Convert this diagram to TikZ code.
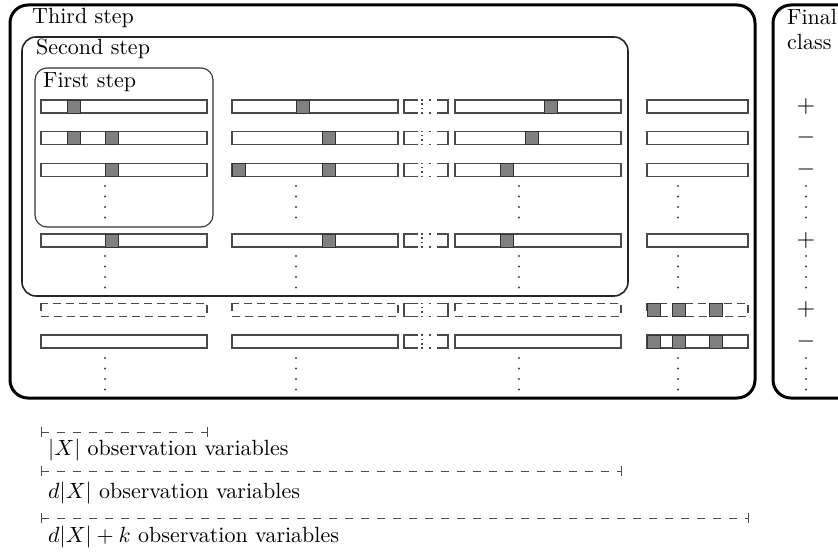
\documentclass[tikz,border=0pt]{standalone}
\usepackage{amsmath}
\definecolor{barc}{HTML}{4A4A4A}
\definecolor{cellb}{HTML}{333333}
\definecolor{cellg}{HTML}{808080}
\newcommand{\obsbar}[3]{\draw[bar] ({#1},{#3-6.5}) rectangle ({#2},{#3+6.5});}
\newcommand{\obsdbar}[3]{\draw[dbar] ({#1},{#3-6.5}) rectangle ({#2},{#3+6.5});}
\newcommand{\obscell}[2]{\draw[cellbox] ({#1},{#2-6.5}) rectangle ({#1+13},{#2+6.5});}
\newcommand{\obsgap}[1]{%
  \draw[gapline] (418,{#1-6.5}) -- (404,{#1-6.5}) -- (404,{#1+6.5}) -- (418,{#1+6.5});
  \draw[gapline] (437,{#1-6.5}) -- (448,{#1-6.5}) -- (448,{#1+6.5}) -- (437,{#1+6.5});
  \draw[gapline] (421,{#1-6.5}) -- (423,{#1-6.5}) (429,{#1-6.5}) -- (431,{#1-6.5})
                 (421,{#1+6.5}) -- (423,{#1+6.5}) (429,{#1+6.5}) -- (431,{#1+6.5})
                 (422,{#1-3}) -- (422,{#1-1.5}) (422,{#1+1.5}) -- (422,{#1+3});}
\newcommand{\obsdots}[2]{\foreach \ii in {0,...,3} {\fill[vdot] ({#1},{#2+10.5*\ii}) circle (1.2pt);}}
\newcommand{\bigtxt}[1]{\scalebox{2.2}{\fontsize{10}{12}\selectfont #1}}
\newcommand{\signtxt}[1]{\scalebox{2.4}{\fontsize{10}{12}\selectfont #1}}
\begin{document}
\begin{tikzpicture}[x=1pt,y=-1pt,
  lbl/.style={inner sep=0pt, anchor=base west},
  bar/.style={draw=barc, line width=1.1pt, fill=white},
  dbar/.style={draw=barc, line width=1.1pt, dash pattern=on 8pt off 5pt},
  cellbox/.style={draw=cellb, line width=0.9pt, fill=cellg},
  gapline/.style={draw=barc, line width=1.1pt},
  stepthree/.style={draw=black, line width=3pt, rounded corners=18pt},
  steptwo/.style={draw=black!85, line width=1.6pt, rounded corners=14pt},
  stepone/.style={draw=black!80, line width=1.1pt, rounded corners=12pt},
  measure/.style={draw=black!70, line width=0.9pt, dash pattern=on 8pt off 8pt},
  tickline/.style={draw=black!70, line width=0.9pt},
  vdot/.style={fill=black!75, draw=none},
  sign/.style={inner sep=0pt}
]
\useasboundingbox (0,0) rectangle (838,553);
\begin{scope}
  \clip (0,0) rectangle (838,553);
  \draw[stepthree] (10,5) rectangle (755,398);
  \draw[stepthree] (773,5) rectangle (880,398);
\end{scope}
\draw[steptwo] (22,37) rectangle (628,296);
\draw[stepone] (35,68) rectangle (213,227);

\node[lbl] (third) at (32,24) {\bigtxt{Third step}};
\node[lbl] (second) at (36,55) {\bigtxt{Second step}};
\node[lbl] (first) at (43,88) {\bigtxt{First step}};
\node[lbl] (final) at (787,25) {\bigtxt{Final}};
\node[lbl] (class) at (787,50) {\bigtxt{class}};

% row 1
\obsbar{41}{207}{106.5}\obsbar{232}{398}{106.5}\obsgap{106.5}\obsbar{455}{621}{106.5}\obsbar{647}{748}{106.5}
\obscell{67}{106.5}\obscell{296}{106.5}\obscell{544}{106.5}
% row 2
\obsbar{41}{207}{138}\obsbar{232}{398}{138}\obsgap{138}\obsbar{455}{621}{138}\obsbar{647}{748}{138}
\obscell{67}{138}\obscell{105}{138}\obscell{322}{138}\obscell{525}{138}
% row 3
\obsbar{41}{207}{170}\obsbar{232}{398}{170}\obsgap{170}\obsbar{455}{621}{170}\obsbar{647}{748}{170}
\obscell{105}{170}\obscell{232}{170}\obscell{322}{170}\obscell{500}{170}
% row 4
\obsbar{41}{207}{240.5}\obsbar{232}{398}{240.5}\obsgap{240.5}\obsbar{455}{621}{240.5}\obsbar{647}{748}{240.5}
\obscell{105}{240.5}\obscell{322}{240.5}\obscell{500}{240.5}
% row 5 (dashed)
\obsdbar{41}{207}{310}\obsdbar{232}{398}{310}\obsgap{310}\obsdbar{455}{621}{310}\obsdbar{647}{748}{310}
\obscell{647}{310}\obscell{672}{310}\obscell{709}{310}
% row 6
\obsbar{41}{207}{341.5}\obsbar{232}{398}{341.5}\obsgap{341.5}\obsbar{455}{621}{341.5}\obsbar{647}{748}{341.5}
\obscell{647}{341.5}\obscell{672}{341.5}\obscell{709}{341.5}

% vertical dots
\foreach \cx in {105,296,519,678,806} {
  \obsdots{\cx}{186}
  \obsdots{\cx}{256}
  \obsdots{\cx}{358}
}

% final class signs
\node[sign] (s1) at (806,106.5) {\signtxt{$+$}};
\node[sign] (s2) at (806,138) {\signtxt{$-$}};
\node[sign] (s3) at (806,170) {\signtxt{$-$}};
\node[sign] (s4) at (806,240.5) {\signtxt{$+$}};
\node[sign] (s5) at (806,310) {\signtxt{$+$}};
\node[sign] (s6) at (806,341.5) {\signtxt{$-$}};

% measure lines
\coordinate (m1s) at (41,432); \coordinate (m1e) at (207,432);
\coordinate (m2s) at (41,471); \coordinate (m2e) at (621,471);
\coordinate (m3s) at (41,518); \coordinate (m3e) at (748,518);
\foreach \m in {m1,m2,m3} {
  \draw[measure] (\m s) -- (\m e);
  \draw[tickline] ([yshift=-5pt]\m s) -- ([yshift=5pt]\m s);
  \draw[tickline] ([yshift=-5pt]\m e) -- ([yshift=5pt]\m e);
}
\node[lbl] (t1) at (48,455) {\bigtxt{$|X|$ observation variables}};
\node[lbl] (t2) at (48,498) {\bigtxt{$d|X|$ observation variables}};
\node[lbl] (t3) at (48,542) {\bigtxt{$d|X|+k$ observation variables}};
\end{tikzpicture}
\end{document}
